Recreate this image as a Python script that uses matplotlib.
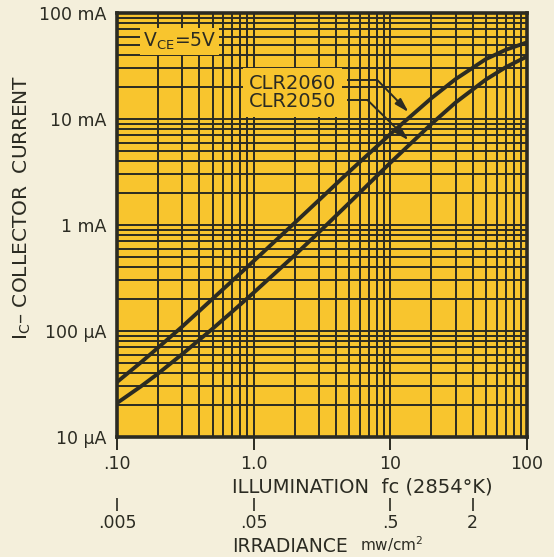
import numpy as np
import matplotlib
matplotlib.use("Agg")
import matplotlib.pyplot as plt
from matplotlib.ticker import FixedLocator, NullFormatter, LogLocator

# illumination (fc) and collector current (uA)
fc = [0.1, 0.15, 0.2, 0.3, 0.5, 0.7, 1, 2, 3, 5, 10, 20, 30, 50, 70, 100]
clr2060 = [33, 50.7, 69.7, 110, 201, 299, 457, 1050, 1714, 3184, 7211,
           15740, 23770, 36730, 44980, 52840]
clr2050 = [20.9, 30.1, 39.7, 60.5, 105, 153, 230, 520, 853, 1614, 3864,
           8995, 14290, 23550, 30830, 38900]

x_ticks = [0.1, 1, 10, 100]
x_labels = [".10", "1.0", "10", "100"]
y_ticks = [10, 100, 1000, 10000, 100000]
y_labels = ["10 µA", "100 µA", "1 mA", "10 mA", "100 mA"]
irr_ticks = [0.005, 0.05, 0.5, 2]
irr_labels = [".005", ".05", ".5", "2"]

paper = "#f4efdb"
yellow = "#f8c52e"
ink = "#2b2b22"

plt.rcParams['font.family'] = ['DejaVu Sans']

fig = plt.figure(figsize=(5.54, 5.57), dpi=100, facecolor=paper)
ax = fig.add_axes([117 / 554, 1 - 437 / 557, 410 / 554, 424 / 557])
ax.set_facecolor(yellow)
ax.set_xscale("log")
ax.set_yscale("log")
ax.set_xlim(0.1, 100)
ax.set_ylim(10, 100000)

ax.plot(fc, clr2060, color=ink, lw=2.8, zorder=2, solid_joinstyle="round")
ax.plot(fc, clr2050, color=ink, lw=2.8, zorder=2, solid_joinstyle="round")

# grid
ax.set_axisbelow(True)
ax.xaxis.set_minor_locator(LogLocator(base=10, subs=np.arange(2, 10)))
ax.yaxis.set_minor_locator(LogLocator(base=10, subs=np.arange(2, 10)))
ax.xaxis.set_minor_formatter(NullFormatter())
ax.yaxis.set_minor_formatter(NullFormatter())
ax.grid(True, which="both", color=ink, lw=1.4)

ax.xaxis.set_major_locator(FixedLocator(x_ticks))
ax.set_xticklabels(x_labels)
ax.yaxis.set_major_locator(FixedLocator(y_ticks))
ax.set_yticklabels(y_labels)
ax.tick_params(axis="x", which="major", direction="out", length=9, width=1.4,
               color=ink, labelsize=12.5, labelcolor=ink, pad=4)
ax.tick_params(axis="y", which="major", length=0, labelsize=12.5,
               labelcolor=ink, pad=8)
ax.tick_params(which="minor", length=0)
for s in ax.spines.values():
    s.set_color(ink)
    s.set_linewidth(2.6)

# irradiance scale
sec = ax.secondary_xaxis(-0.145, functions=(lambda v: v * 0.05, lambda v: v / 0.05))
sec.spines["bottom"].set_visible(False)
sec.xaxis.set_major_locator(FixedLocator(irr_ticks))
sec.xaxis.set_minor_locator(FixedLocator([]))
sec.set_xticklabels(irr_labels)
sec.tick_params(axis="x", direction="out", length=9, width=1.2, color=ink,
                labelsize=12.5, labelcolor=ink, pad=2)

# labels in the chart
ax.text(0.063, 0.932, r"V$_{\mathregular{CE}}$=5V", transform=ax.transAxes,
        fontsize=13.5, color=ink, va="center", ha="left",
        bbox=dict(facecolor=yellow, edgecolor="none", pad=2), zorder=3)
ax.text(0.322, 0.813, "CLR2060\nCLR2050", transform=ax.transAxes,
        fontsize=14, color=ink, va="center", ha="left", linespacing=0.97,
        bbox=dict(facecolor=yellow, edgecolor="none", pad=4), zorder=3)

# leader lines with arrows
ax.plot([4.9, 8.04], [23300, 23300], color=ink, lw=1.4, zorder=4)
ax.annotate("", xy=(13.6, 11600), xytext=(8.04, 23300),
            arrowprops=dict(arrowstyle="-|>,head_length=0.7,head_width=0.2",
                            color=ink, lw=1.4, mutation_scale=12,
                            shrinkA=0, shrinkB=0), zorder=4)
ax.plot([4.9, 6.8], [15100, 15100], color=ink, lw=1.4, zorder=4)
ax.annotate("", xy=(13.6, 6300), xytext=(6.8, 15100),
            arrowprops=dict(arrowstyle="-|>,head_length=0.7,head_width=0.2",
                            color=ink, lw=1.4, mutation_scale=12,
                            shrinkA=0, shrinkB=0), zorder=4)

fig.text(22 / 554, 1 - 207 / 557, r"I$_{\mathregular{C}}$– COLLECTOR  CURRENT",
         rotation=90, ha="center", va="center", fontsize=14.5, color=ink)
fig.text(232 / 554, 1 - 487 / 557, "ILLUMINATION  fc (2854°K)",
         ha="left", va="center", fontsize=14, color=ink)
fig.text(232 / 554, 1 - 546 / 557, "IRRADIANCE",
         ha="left", va="center", fontsize=13.5, color=ink)
fig.text(360 / 554, 1 - 544 / 557, r"mw/cm$^{\mathregular{2}}$",
         ha="left", va="center", fontsize=11, color=ink)

fig.savefig("out.png", dpi=100, facecolor=paper)
